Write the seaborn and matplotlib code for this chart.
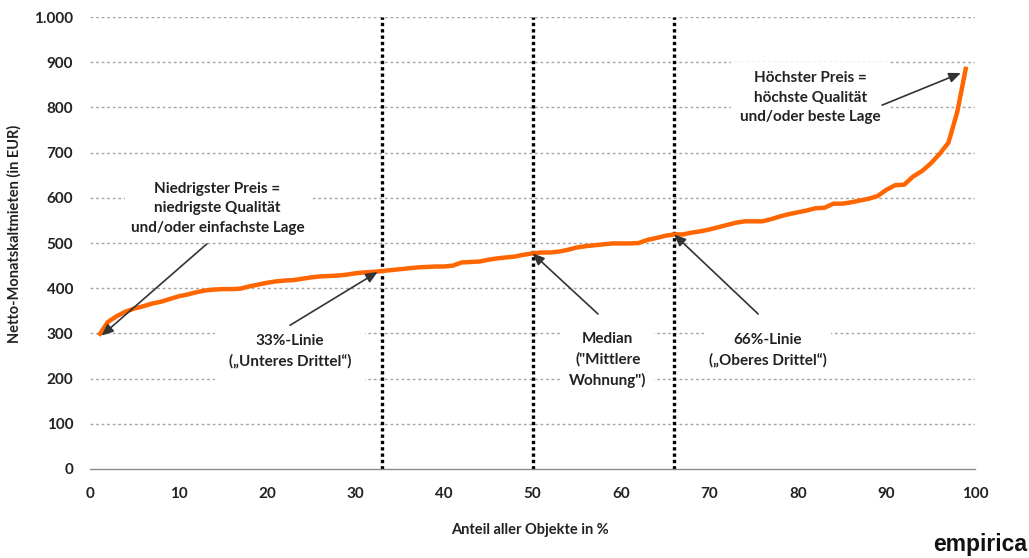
import matplotlib
matplotlib.use("Agg")
import matplotlib.pyplot as plt
import numpy as np
import pandas as pd
import seaborn as sns

# Anteil aller Objekte (Perzentil) und zugehörige Netto-Monatskaltmiete
anteil = list(range(1, 100))
miete = [
    295, 325, 338, 348, 355, 360, 366, 370, 376, 382,
    386, 391, 395, 397, 398, 398, 399, 404, 408, 412,
    415, 417, 418, 421, 424, 426, 427, 428, 430, 433,
    435, 436, 438, 440, 442, 444, 446, 447, 448, 448,
    450, 457, 458, 459, 463, 466, 468, 470, 474, 477,
    479, 479, 481, 485, 490, 493, 495, 497, 499, 499,
    499, 500, 507, 511, 516, 519, 519, 523, 526, 530,
    535, 540, 545, 548, 548, 548, 553, 559, 564, 568,
    572, 577, 578, 587, 587, 590, 594, 598, 604, 618,
    628, 629, 647, 659, 676, 697, 722, 790, 890,
]

# Markierte Schwellen (33%, Median, 66%)
schwellen = [33, 50, 66]

x_ticks = list(range(0, 101, 10))
y_ticks = list(range(0, 1001, 100))
y_labels = ["0", "100", "200", "300", "400", "500", "600", "700", "800", "900", "1.000"]

df = pd.DataFrame({"anteil": anteil, "miete": miete})

sns.set_style("white")
plt.rcParams["font.family"] = ["Lato", "DejaVu Sans"]

fig = plt.figure(figsize=(10.29, 5.58), dpi=100)
ax = fig.add_axes([0.0875, 0.1595, 0.86, 0.81])

# horizontal grid
for yv in y_ticks[1:]:
    ax.axhline(yv, color="#a6a6a6", lw=1.0, ls=(0, (2, 2)), zorder=0)

# vertical threshold lines
for s in schwellen:
    ax.plot([s, s], [0, 1000], color="black", lw=2.4, ls=(0, (1, 0.9)), zorder=1)

sns.lineplot(data=df, x="anteil", y="miete", color="#ff6600", lw=3.2,
             ax=ax, zorder=3, solid_capstyle="butt")

ax.set_xlim(0, 100)
ax.set_ylim(0, 1000)
ax.set_xticks(x_ticks)
ax.set_xticklabels([str(v) for v in x_ticks], fontsize=11, fontweight="bold", color="#222222")
ax.set_yticks(y_ticks)
ax.set_yticklabels(y_labels, fontsize=11, fontweight="bold", color="#222222")

for side in ["top", "right", "left"]:
    ax.spines[side].set_visible(False)
ax.spines["bottom"].set_color("#8c8c8c")
ax.spines["bottom"].set_linewidth(1.0)
ax.tick_params(axis="x", direction="out", length=5, width=1, color="#8c8c8c", pad=8)
ax.tick_params(axis="y", length=0, pad=12)

ax.set_xlabel("Anteil aller Objekte in %", fontsize=10.5, fontweight="bold",
              color="#222222")
ax.set_ylabel("Netto-Monatskaltmieten (in EUR)", fontsize=10.5, fontweight="bold",
              color="#222222")
ax.xaxis.set_label_coords(0.497, -0.12)
ax.yaxis.set_label_coords(-0.077, 0.52)

txt_kw = dict(ha="center", va="center", fontsize=11, fontweight="bold",
              color="#222222", linespacing=1.5, zorder=2)
arrow_kw = dict(arrowstyle="-|>,head_length=0.7,head_width=0.3",
                color="#333333", lw=1.2, shrinkA=0, shrinkB=0)

# annotations: text with white box, arrow from label to the curve
ax.text(14.4, 577, "Niedrigster Preis =\nniedrigste Qualität\nund/oder einfachste Lage",
        bbox=dict(boxstyle="square,pad=0.35", fc="white", ec="none"), **txt_kw)
ax.annotate("", xy=(anteil[0] + 0.3, miete[0]), xytext=(13.2, 498),
            arrowprops=arrow_kw, zorder=4)

ax.text(22.6, 261, "33%-Linie\n(„Unteres Drittel“)",
        bbox=dict(boxstyle="square,pad=0.9", fc="white", ec="none"), **txt_kw)
ax.annotate("", xy=(schwellen[0] - 0.5, miete[32] - 2), xytext=(22.6, 318),
            arrowprops=arrow_kw, zorder=4)

ax.text(58.5, 241, "Median\n(\"Mittlere\nWohnung\")",
        bbox=dict(boxstyle="square,pad=0.5", fc="white", ec="none"), **txt_kw)
ax.annotate("", xy=(schwellen[1], miete[49]), xytext=(57.4, 343),
            arrowprops=arrow_kw, zorder=4)

ax.text(76.6, 263, "66%-Linie\n(„Oberes Drittel“)",
        bbox=dict(boxstyle="square,pad=0.3", fc="white", ec="none"), **txt_kw)
ax.annotate("", xy=(schwellen[2], miete[65]), xytext=(75.5, 343),
            arrowprops=arrow_kw, zorder=4)

ax.text(81.4, 821, "Höchster Preis =\nhöchste Qualität\nund/oder beste Lage",
        bbox=dict(boxstyle="square,pad=0.6", fc="white", ec="none"), **txt_kw)
ax.annotate("", xy=(anteil[-1] - 0.6, miete[-1] - 14), xytext=(89.5, 805),
            arrowprops=arrow_kw, zorder=4)

fig.text(0.998, 0.012, "empirica", ha="right", va="baseline", fontsize=16.5,
         fontweight="bold", color="#111111", family=["Liberation Sans", "DejaVu Sans"])

fig.savefig("out.png", dpi=100)
